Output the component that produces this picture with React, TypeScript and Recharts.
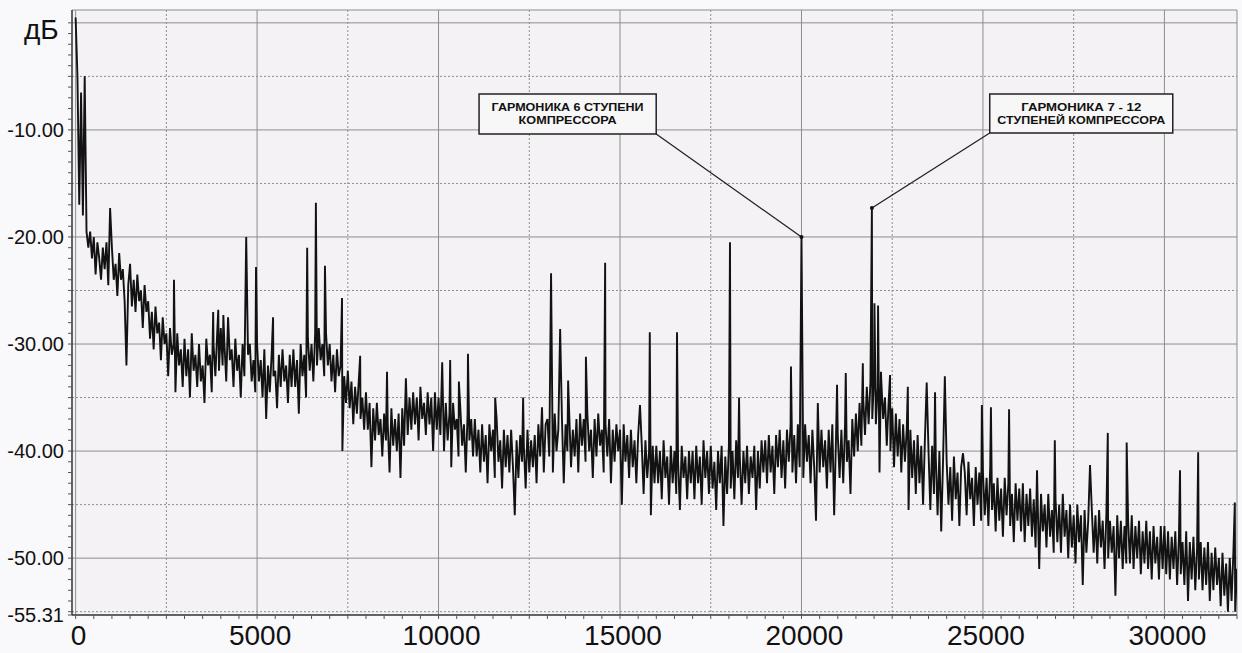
import React from 'react';
import {
  LineChart,
  Line,
  XAxis,
  YAxis,
  CartesianGrid,
  ReferenceArea,
  ReferenceLine,
  ReferenceDot,
} from 'recharts';

// noise floor, one reading every 50 Hz from 0 Hz (20 readings per 1000 Hz row)
const noiseStepHz = 50;
const noiseDb = [
  0.5, -5, -17, -6.5, -18, -5, -19.5, -21, -19.5, -22, -20, -23.5, -20.5, -22, -24, -21, -23, -20.5, -24.5, -22,
  -21, -24, -22.5, -25.5, -21.5, -24, -23, -26, -32, -24.5, -22.5, -26.5, -24, -27, -23.5, -26, -25, -28.5, -24.5, -27,
  -26, -29.5, -27, -30.5, -26.5, -29, -28, -31.5, -27.5, -30, -29, -33, -28.5, -31, -30, -34.5, -29, -32, -30.5, -34,
  -29.5, -33, -30.5, -35, -29, -32.5, -31, -34, -30, -33.5, -32, -35.5, -29.5, -32, -31, -34.5, -30, -33, -29, -32.5,
  -28.5, -32, -30, -33.5, -29, -31.5, -30.5, -34, -29.5, -32.5, -31, -35, -30, -33, -36.5, -31, -30, -33.5, -31.5, -34.5,
  -30, -33.5, -31.5, -35, -30.5, -37, -32, -34.5, -31, -33, -32.5, -36, -31, -34, -30.5, -33.5, -32, -35.5, -31, -34,
  -30.5, -34, -31.5, -36.5, -30, -33, -31, -35, -29.5, -32.5, -30, -33.5, -29, -32, -28.5, -31.5, -30, -33, -29, -32,
  -30, -33.5, -31, -34.5, -30.5, -33, -32, -40, -33, -35.5, -32.5, -36, -33.5, -37.5, -34, -36.5, -33.5, -37, -35, -38,
  -34.5, -38, -35.5, -41.5, -36, -39, -35.5, -38.5, -37, -40.5, -36.5, -39, -37.5, -42, -36, -39.5, -37, -40, -36.5, -42.5,
  -36, -39.5, -35.5, -38.5, -35, -38, -34.5, -37.5, -35, -39, -34, -37, -35.5, -38.5, -34.5, -37.5, -35, -40, -34.5, -38,
  -35, -38.5, -36, -40, -35.5, -39, -36.5, -41.5, -35.5, -38, -37, -40.5, -36, -39.5, -37.5, -42, -36.5, -39, -37, -40.5,
  -37, -40.5, -38, -42, -37.5, -41, -38.5, -43, -37.5, -40, -38, -42.5, -37, -41, -39, -43.5, -38, -41.5, -38.5, -42,
  -38, -41.5, -46, -39, -42.5, -38.5, -41, -39.5, -43.5, -38, -42, -39, -41.5, -38.5, -43, -37.5, -40.5, -38, -42, -37.5,
  -37, -40.5, -37.5, -42, -36.5, -40, -38, -41.5, -37, -43, -37.5, -40, -36.5, -41.5, -38, -40.5, -37, -42, -36.5, -39.5,
  -37, -41, -36.5, -40, -38, -42.5, -37, -40.5, -36.5, -39.5, -38, -42, -37.5, -40.5, -37, -43, -38, -41, -37.5, -40,
  -38, -45, -37.5, -41, -38.5, -42.5, -38, -41.5, -39, -43, -38.5, -42, -39.5, -44, -39, -42.5, -40, -46, -39.5, -43,
  -39.5, -43, -40, -44.5, -39, -42.5, -40.5, -45, -39.5, -43, -40, -44, -41, -45.5, -39.5, -42.5, -40.5, -44.5, -40, -43,
  -40, -44.5, -39.5, -43, -40.5, -45, -39, -42.5, -40, -44, -39.5, -43.5, -41, -45.5, -40, -43, -39.5, -47, -40.5, -44,
  -39.5, -43.5, -40, -44.5, -39, -42.5, -40.5, -45, -40, -43, -39.5, -44, -40.5, -42.5, -39.5, -45.5, -40, -43.5, -39, -42,
  -39, -43, -38.5, -42, -39.5, -44, -38.5, -41.5, -38, -42.5, -39, -43.5, -38, -41, -37.5, -42, -38.5, -43, -37.5, -41.5,
  -38, -42.5, -37.5, -41, -38.5, -43, -38, -41.5, -46.5, -39, -42, -38, -41.5, -39, -43.5, -38, -42, -37.5, -46, -39,
  -38.5, -42.5, -38, -43, -37.5, -41, -39, -44, -37, -40.5, -36.5, -40, -35.5, -39.5, -35, -38.5, -34, -37.5, -33.5, -37,
  -33, -37.5, -34, -42, -33.5, -37, -35, -39.5, -35.5, -40, -36, -41.5, -36.5, -40.5, -37, -42, -37.5, -41, -38, -45.5,
  -38, -42.5, -39, -44, -38.5, -43, -39.5, -45, -39, -43.5, -40, -45.5, -39.5, -44, -40.5, -46, -40, -47.5, -41, -44.5,
  -41, -45, -41.5, -46.5, -40.5, -44.5, -42, -47, -41.5, -45.5, -42, -46, -41, -44.5, -42.5, -47, -41.5, -45, -42, -46.5,
  -42, -46, -42.5, -47, -41.5, -45.5, -43, -47.5, -42.5, -46.5, -43.5, -48, -42.5, -46, -43, -47, -44, -48.5, -43, -46.5,
  -43.5, -47.5, -43, -48.5, -44, -47, -43.5, -48, -44.5, -49, -43.5, -51, -44, -47.5, -45, -49, -44, -48, -45.5, -49.5,
  -44.5, -48.5, -45, -49.5, -44, -48, -45.5, -50, -45, -49, -46, -50.5, -45, -48.5, -46, -52.5, -45.5, -49.5, -46.5, -50,
  -45.5, -49.5, -46, -50.5, -45.5, -49, -46.5, -51, -46, -50, -46.5, -49.5, -47, -53.5, -46, -50, -46.5, -51, -47, -50.5,
  -46.5, -50.5, -46, -51, -47, -50, -46.5, -51.5, -47.5, -50.5, -46.5, -51, -47.5, -52, -47, -50.5, -48, -52, -47, -51,
  -47, -51.5, -47.5, -52, -48, -51, -47.5, -52.5, -48, -51.5, -48.5, -52.5, -47.5, -54, -48.5, -52, -48, -53, -49, -52,
  -48.5, -53, -49, -52.5, -48.5, -54, -49.5, -53, -49, -52.5, -50, -54.5, -49.5, -53.5, -50.5, -55, -50, -54, -49.5, -55,
  -51,
];

// discrete harmonic lines standing above the floor
const spikeHz = [
  950, 2710, 3790, 3930, 4070, 4200, 4700, 4970, 5440, 6380, 6620, 6870, 7340, 7840, 8580, 9100,
  10100, 10320, 10560, 10810, 11560, 12330, 12850, 13100, 13350, 13570, 14060, 14590, 15550, 15820,
  16570, 18030, 18280, 19710, 20000, 20450, 20980, 21220, 21690, 21940, 22010, 22110, 22190, 22440,
  22930, 23450, 23680, 23950, 24450, 24970, 25220, 25720, 26490, 26980, 27950, 28440, 28960, 30430,
  30930, 31940,
];
const spikeDb = [
  -17.3, -24, -27, -26.8, -27.3, -27.5, -20, -22.8, -27.5, -21, -16.8, -22.7, -25.7, -31.1, -32.6, -33.2,
  -31.7, -31.5, -33.5, -30.9, -35, -35, -35.9, -23.4, -28.6, -33.4, -31.2, -22.4, -35.7, -28.9,
  -28.9, -20.5, -35, -32.1, -20, -35.5, -33.8, -32.7, -31.8, -17.3, -26.2, -26.4, -32.6, -32.9,
  -34, -33.6, -34.5, -33, -40.2, -35.7, -35.9, -36.1, -41.8, -39, -41.3, -38.3, -39.2, -41.8,
  -40.1, -44.8,
];

const xMajorTicks = [0, 5000, 10000, 15000, 20000, 25000, 30000];
const xMinorGrid = [2500, 7500, 12500, 17500, 22500, 27500];
const yMajorTicks = [-55.31, -50, -40, -30, -20, -10];
const yMajorGrid = [1.2, 0, -10, -20, -30, -40, -50];
const yMinorGrid = [-5, -15, -25, -35, -45, -55];

const annotation6 = ['ГАРМОНИКА 6 СТУПЕНИ', 'КОМПРЕССОРА'];
const annotation7to12 = ['ГАРМОНИКА 7 - 12', 'СТУПЕНЕЙ КОМПРЕССОРА'];

const byHz = new Map<number, number>();
noiseDb.forEach((v, i) => byHz.set(i * noiseStepHz, v));
spikeHz.forEach((f, i) => byHz.set(f, spikeDb[i]));
const data = Array.from(byHz.entries())
  .sort((a, b) => a[0] - b[0])
  .map(([f, db]) => ({ f, db }));

const xTicks = Array.from({ length: 65 }, (_, i) => i * 500);
const yTicks = [-55.31, ...Array.from({ length: 56 }, (_, i) => -55 + i)];

const FONT = '"Liberation Sans", Arial, sans-serif';

function XTick(props: any) {
  const { x, y, payload } = props;
  if (payload.value % 5000 !== 0) return null;
  return (
    <text x={x + 3} y={y} dy="0.71em" textAnchor="middle" fontFamily={FONT} fontSize={28} fill="#111">
      {payload.value}
    </text>
  );
}

function YTick(props: any) {
  const { x, y, payload } = props;
  if (!yMajorTicks.includes(payload.value)) return null;
  return (
    <text x={x} y={y} dy="0.355em" textAnchor="end" fontFamily={FONT} fontSize={20} fill="#111">
      {payload.value.toFixed(2)}
    </text>
  );
}

function BoxText(props: any) {
  const { viewBox, lines, widths } = props;
  if (!viewBox) return null;
  const cx = viewBox.x + viewBox.width / 2;
  return (
    <g>
      {lines.map((t: string, i: number) => (
        <text
          key={i}
          x={cx}
          y={viewBox.y + 17 + i * 13}
          textAnchor="middle"
          fontFamily={FONT}
          fontWeight="bold"
          fontSize={11}
          fill="#111"
          textLength={widths[i]}
          lengthAdjust="spacingAndGlyphs"
        >
          {t}
        </text>
      ))}
    </g>
  );
}

export default function App() {
  return (
    <div style={{ position: 'relative', width: 1242, height: 653, background: '#f9f8fa' }}>
      <style>{'body{margin:0}'}</style>
      <LineChart width={1242} height={653} data={data} margin={{ top: 10, right: 5, bottom: 0, left: 0 }}>
        <CartesianGrid
          horizontalValues={yMajorGrid}
          verticalValues={[...xMajorTicks, 32000]}
          stroke="#8d8d8d"
          fill="#f4f2f5"
        />
        <CartesianGrid
          horizontalValues={yMinorGrid}
          verticalValues={xMinorGrid}
          stroke="#8d8d8d"
          strokeDasharray="2 2"
        />
        <XAxis
          type="number"
          dataKey="f"
          domain={[-100, 32000]}
          ticks={xTicks}
          interval={0}
          height={38}
          tickSize={4}
          tickMargin={6}
          tick={<XTick />}
          axisLine={{ stroke: '#333', strokeWidth: 1.5 }}
          tickLine={{ stroke: '#555' }}
          allowDataOverflow
        />
        <YAxis
          type="number"
          domain={[-55.31, 1.2]}
          ticks={yTicks}
          interval={0}
          width={72}
          tickSize={4}
          tickMargin={4}
          tick={<YTick />}
          axisLine={{ stroke: '#333', strokeWidth: 1.5 }}
          tickLine={{ stroke: '#555' }}
          allowDataOverflow
        />
        <Line
          type="linear"
          dataKey="db"
          stroke="#121212"
          strokeWidth={1.9}
          strokeLinejoin="miter"
          dot={false}
          isAnimationActive={false}
        />
        <ReferenceLine
          segment={[{ x: 15997, y: -10.39 }, { x: 20000, y: -20 }]}
          stroke="#222"
          strokeWidth={1.3}
          ifOverflow="visible"
        />
        <ReferenceLine
          segment={[{ x: 25187, y: -10.29 }, { x: 21940, y: -17.3 }]}
          stroke="#222"
          strokeWidth={1.3}
          ifOverflow="visible"
        />
        <ReferenceDot x={20000} y={-20} r={2} fill="#111" stroke="none" />
        <ReferenceDot x={21940} y={-17.3} r={2} fill="#111" stroke="none" />
        <ReferenceArea
          x1={11116}
          x2={15997}
          y1={-6.65}
          y2={-10.39}
          fill="#f7f7f7"
          fillOpacity={1}
          stroke="#222"
          strokeWidth={1.5}
          ifOverflow="visible"
          label={<BoxText lines={annotation6} widths={[152, 98]} />}
        />
        <ReferenceArea
          x1={25187}
          x2={30230}
          y1={-6.65}
          y2={-10.29}
          fill="#f7f7f7"
          fillOpacity={1}
          stroke="#222"
          strokeWidth={1.5}
          ifOverflow="visible"
          label={<BoxText lines={annotation7to12} widths={[120, 168]} />}
        />
      </LineChart>
      <svg width={80} height={50} style={{ position: 'absolute', left: 0, top: 0, pointerEvents: 'none' }}>
        <text x={24} y={39} fontFamily={FONT} fontSize={28} fill="#111">
          дБ
        </text>
      </svg>
    </div>
  );
}
